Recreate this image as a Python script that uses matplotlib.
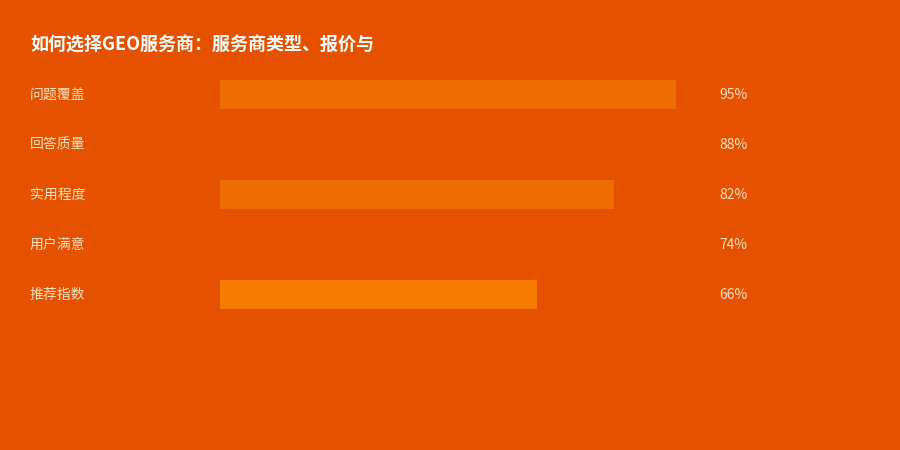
import matplotlib
matplotlib.use("Agg")
import matplotlib.pyplot as plt
import matplotlib.transforms as mtransforms

plt.rcParams['font.family'] = ['Noto Sans CJK SC', 'DejaVu Sans']

title = "如何选择GEO服务商：服务商类型、报价与"
categories = ["问题覆盖", "回答质量", "实用程度", "用户满意", "推荐指数"]
values = [95, 88, 82, 74, 66]
bar_colors = ["#EF6C00", "#E65100", "#EF6C00", "#E65100", "#F57C00"]

BG = "#E65100"
TXT = "#FFE0C0"

fig = plt.figure(figsize=(9, 4.5), dpi=100, facecolor=BG)
ax = fig.add_axes([220/900, 1-319/450, 480/900, 250/450])
ax.set_facecolor(BG)
ax.barh(range(len(categories)), values, height=0.58, color=bar_colors, linewidth=0)
ax.set_xlim(0, 100)
ax.set_ylim(len(categories)-0.5, -0.5)
ax.axis('off')

base = mtransforms.blended_transform_factory(fig.transFigure, ax.transData)
trans = base + mtransforms.ScaledTranslation(0, -1/100, fig.dpi_scale_trans)
for i, (c, v) in enumerate(zip(categories, values)):
    fig.text(30/900, i, c, transform=trans, ha='left', va='center', fontsize=10, color=TXT)
    fig.text(719/900, i, f"{v}%", transform=trans, ha='left', va='center', fontsize=10, color=TXT)

fig.text(30/900, 1-45/450, title, ha='left', va='center', fontsize=13, fontweight='bold', color='white')

fig.savefig("out.png", dpi=100, facecolor=BG)
